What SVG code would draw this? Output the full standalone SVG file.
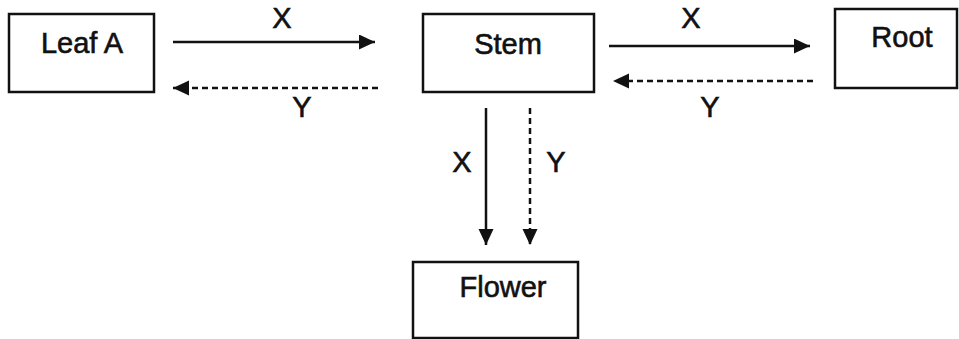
<svg xmlns="http://www.w3.org/2000/svg" width="959" height="339" viewBox="0 0 959 339">
  <style>
    .box { fill: #fff; stroke: #111; stroke-width: 2.5; }
    .label { font-family: "Liberation Sans", Arial, sans-serif; font-size: 29px; fill: #111; stroke: #111; stroke-width: 0.6; text-anchor: middle; }
    .flow { stroke: #111; stroke-width: 2.5; fill: none; }
    .dashed { stroke-dasharray: 6 4; }
  </style>
  <defs>
    <marker id="head" markerUnits="userSpaceOnUse" markerWidth="18" markerHeight="16" refX="16" refY="7.5" orient="auto">
      <path d="M0,0 L16,7.5 L0,15 Z" fill="#111"/>
    </marker>
  </defs>

  <rect width="959" height="339" fill="#fff"/>

  <g id="leaf">
    <rect class="box" x="9" y="14" width="145" height="78"/>
    <text class="label" x="82" y="53">Leaf A</text>
  </g>
  <g id="stem">
    <rect class="box" x="423" y="14" width="171" height="78"/>
    <text class="label" x="508" y="54">Stem</text>
  </g>
  <g id="root">
    <rect class="box" x="835" y="9" width="122" height="79"/>
    <text class="label" x="902" y="47">Root</text>
  </g>
  <g id="flower">
    <rect class="box" x="413" y="262" width="165" height="76"/>
    <text class="label" x="503" y="297">Flower</text>
  </g>

  <g id="connectors">
    <line class="flow" x1="173" y1="42" x2="375" y2="42" marker-end="url(#head)"/>
    <line class="flow dashed" x1="378" y1="88" x2="173" y2="88" marker-end="url(#head)"/>
    <line class="flow" x1="609" y1="46" x2="810" y2="46" marker-end="url(#head)"/>
    <line class="flow dashed" x1="813" y1="81" x2="613" y2="81" marker-end="url(#head)"/>
    <line class="flow" x1="486" y1="108" x2="486" y2="245" marker-end="url(#head)"/>
    <line class="flow dashed" x1="530" y1="108" x2="530" y2="245" marker-end="url(#head)"/>

    <text class="label" x="282" y="28">X</text>
    <text class="label" x="302" y="117">Y</text>
    <text class="label" x="691" y="28">X</text>
    <text class="label" x="710" y="117">Y</text>
    <text class="label" x="462" y="172">X</text>
    <text class="label" x="556" y="172">Y</text>
  </g>
</svg>
